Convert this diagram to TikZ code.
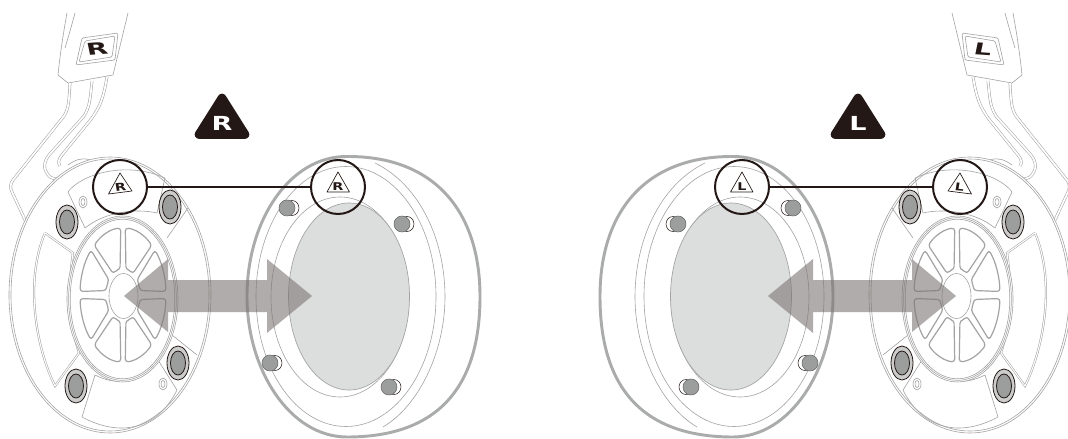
\documentclass[tikz,border=0pt]{standalone}
\usepackage{fontspec}
\newfontfamily\markfont{DejaVu Sans}
\definecolor{ink}{HTML}{231815}
\definecolor{linegray}{HTML}{A3A3A3}
\definecolor{padgray}{HTML}{AAABAB}
\definecolor{ovalgray}{HTML}{DCDDDD}
\definecolor{screwgray}{HTML}{9C9E9D}
\definecolor{ringgray}{HTML}{CBCCCB}
\definecolor{arrowgray}{HTML}{7B7573}
\tikzset{
  thinline/.style={draw=linegray,line width=0.45pt},
  armline/.style={draw=linegray,line width=0.4pt,double=white,double distance=1.3pt},
  btnline/.style={draw=linegray,line width=0.9pt,rounded corners=2.2pt},
  lens/.style={circle,draw=ink,line width=1.5pt,minimum size=40.5pt,inner sep=0pt},
  bigmark/.style={font=\markfont\bfseries\fontsize{14.5}{14.5}\selectfont,text=white,inner sep=0pt,xscale=1.4},
  bandmark/.style={font=\markfont\bfseries\fontsize{12.3}{12.3}\selectfont,text=ink,inner sep=0pt,xscale=1.7},
  tinymark/.style={font=\markfont\bfseries\fontsize{8}{8}\selectfont,text=ink,inner sep=0pt,xscale=1.35},
}
% one half of the set: #1 letter, #2 tilt of its printed letters
\newcommand\halfset[2]{
  % headband and its label
  \draw[thinline] (67,13) .. controls (63,35) and (60,55) .. (58,75) -- (68,83) -- (113,75) -- (128,13);
  \draw[thinline] (75,13) .. controls (71,28) and (68,38) .. (65,48);
  \draw[thinline,rounded corners=1pt] (82,38) -- (118,33) -- (115,60) -- (76,65) -- cycle;
  \draw[thinline,rounded corners=1pt] (85,41) -- (115,36) -- (112,57) -- (79,62) -- cycle;
  \node[bandmark,rotate=#2] (band#1) at (97,49) {#1};
  % arms
  \draw[armline] (70,83) .. controls (69,100) and (69,108) .. (64,116) -- (13,180) .. controls (10,184) and (10,188) .. (12,192) -- (26,222);
  \draw[armline] (92,81) .. controls (90,100) and (90,106) .. (84,116) -- (49,155) .. controls (43,163) and (43,170) .. (50,177) .. controls (55,181) and (62,177) .. (67,174);
  \draw[armline] (107,77) .. controls (103,100) and (100,106) .. (92,118) -- (62,155) .. controls (58,160) and (58,163) .. (60,166);
  \draw[thinline] (68,165) .. controls (75,160) and (82,157) .. (90,160);
  % ear cup
  \draw[thinline,fill=white] (110,295) ellipse [x radius=101,y radius=138];
  \draw[thinline] (110,295) ellipse [x radius=99,y radius=136];
  % plates between the screws
  \draw[thinline] (68,192) .. controls (80,175) and (125,160) .. (165,178) -- (157,213)
    .. controls (135,208) and (105,212) .. (85,228) -- cycle;
  \draw[armline,double distance=0.8pt] (45,233) -- (73,253) .. controls (68,285) and (70,325) .. (79,353) -- (55,386)
    .. controls (35,345) and (25,280) .. (45,233);
  \draw[thinline] (188,208) -- (167,238) (172,335) -- (197,355);
  \draw[thinline] (95,375) .. controls (115,385) and (135,385) .. (158,360) -- (177,390)
    .. controls (160,425) and (125,440) .. (82,417) -- cycle;
  % hub rings
  \foreach \r in {0,1.6,3.2}
    \draw[thinline,fill=white] (122.5,299) ellipse [x radius=55.5-\r,y radius=83-\r];
  % the eight buttons
  \begin{scope}[shift={(123,295)}]
    \foreach \a in {0,45,...,315} {
      \pgfmathsetmacro\s{\a+3}
      \pgfmathsetmacro\e{\a+42}
      \pgfmathsetmacro\si{\a+10}
      \pgfmathsetmacro\ei{\a+35}
      \draw[btnline] (\s:43 and 67) arc [start angle=\s,end angle=\e,x radius=43,y radius=67]
        -- (\ei:17 and 26) arc [start angle=\ei,end angle=\si,x radius=17,y radius=26] -- cycle;
    }
    \draw[thinline] (0.5,1) ellipse [x radius=14.5,y radius=22.5];
  \end{scope}
  % screws
  \foreach \x/\y in {67/222,170/207,178/363,76/386} {
    \draw[ink,line width=0.6pt,fill=ringgray] (\x,\y) ellipse [x radius=11,y radius=17];
    \draw[ink,line width=0.6pt,fill=screwgray] (\x,\y) ellipse [x radius=7.5,y radius=12];
  }
  % small holes
  \foreach \x/\y in {83/202,163/384} {
    \draw[thinline] (\x,\y) ellipse [x radius=4,y radius=6];
    \draw[thinline] (\x,\y) ellipse [x radius=2,y radius=3.5];
  }
  % ear pad
  \draw[padgray,line width=2.2pt] (347,156.5) .. controls (290,156) and (247,220) .. (247,296.5)
    .. controls (247,370) and (290,437) .. (347,437)
    .. controls (440,437) and (480,385) .. (480,296.5)
    .. controls (480,212) and (435,156) .. (347,156.5) -- cycle;
  \draw[thinline] (346,296.5) ellipse [x radius=90,y radius=130];
  \draw[thinline] (375,163) .. controls (420,185) and (445,240) .. (445,297) .. controls (445,350) and (420,405) .. (383,427);
  \draw[thinline] (340,297) ellipse [x radius=69,y radius=100];
  \draw[draw=linegray,line width=0.5pt,fill=ovalgray] (349,296.5) ellipse [x radius=60.5,y radius=93.5];
  % pegs on the pad
  \foreach \x/\y in {287/208,402/224,270/363,389/387} {
    \draw[ink,line width=0.4pt,fill=white] (\x+5,\y) ellipse [x radius=7,y radius=7.5];
    \draw[draw=black!60,line width=0.4pt,fill=screwgray] (\x,\y) circle (8);
  }
  % arrow from the cup to the pad
  \fill[arrowgray,opacity=0.6] (124,296) -- (168,259) -- (168,280) -- (267,280) -- (267,259)
    -- (312,296) -- (267,333) -- (267,312) -- (168,312) -- (168,332) -- cycle;
  % big mark
  \fill[ink,draw=ink,line width=6.5pt,line join=round] (222,98) -- (199,134.5) -- (245,134.5) -- cycle;
  \node[bigmark] (mark#1) at (222,123.5) {#1};
  % lenses and their link
  \node[lens] (cup#1) at (120,187) {};
  \node[lens] (pad#1) at (338,187) {};
  \draw[ink,line width=1.2pt] (cup#1) -- (pad#1);
  \draw[ink,line width=0.5pt,fill=white,line join=round] (120,173) -- (108.5,194) -- (132,191) -- cycle;
  \node[tinymark,rotate=#2] (tagcup#1) at (120.5,187) {#1};
  \draw[ink,line width=0.5pt,fill=white,line join=round] (338,172) -- (327,192) -- (349.5,192) -- cycle;
  \node[tinymark] (tagpad#1) at (338,186.5) {#1};
}
\begin{document}
\begin{tikzpicture}[x=0.75pt,y=-0.75pt]
\clip (0,0) rectangle (1068,439);
\fill[white] (0,0) rectangle (1068,439);
\halfset{R}{7}
\begin{scope}[shift={(1080,0)},xscale=-1]
  \halfset{L}{-7}
\end{scope}
\end{tikzpicture}
\end{document}
